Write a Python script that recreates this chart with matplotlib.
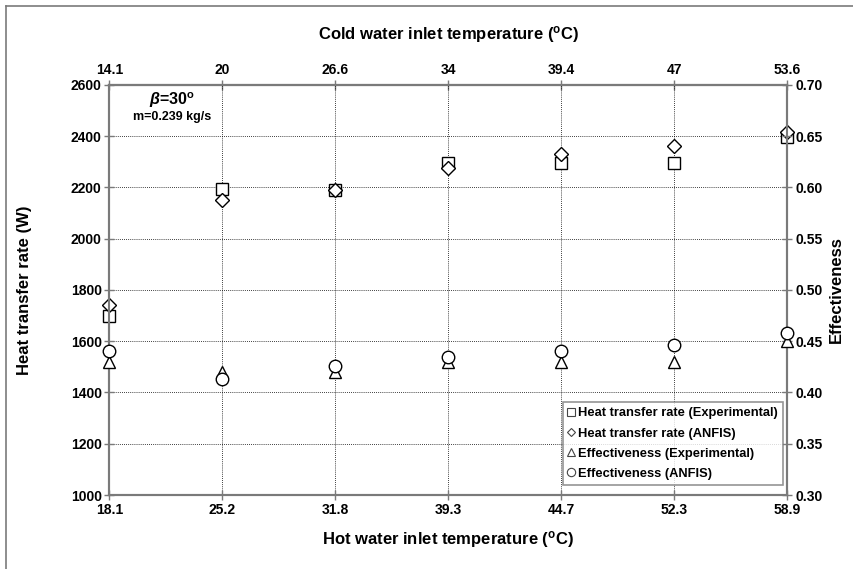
import matplotlib
matplotlib.use("Agg")
import matplotlib.pyplot as plt
from matplotlib.lines import Line2D

plt.rcParams["font.family"] = ["Liberation Sans", "DejaVu Sans"]
plt.rcParams["font.weight"] = "bold"
plt.rcParams["mathtext.fontset"] = "custom"
plt.rcParams["mathtext.rm"] = "Liberation Sans:bold"
plt.rcParams["mathtext.bf"] = "Liberation Sans:bold"
plt.rcParams["mathtext.it"] = "Liberation Sans:bold:italic"

hot_labels = ["18.1", "25.2", "31.8", "39.3", "44.7", "52.3", "58.9"]
cold_labels = ["14.1", "20", "26.6", "34", "39.4", "47", "53.6"]

q_exp = [1700, 2195, 2190, 2295, 2295, 2295, 2395]
q_anfis = [1740, 2150, 2190, 2275, 2330, 2360, 2415]
eff_exp = [0.430, 0.420, 0.420, 0.430, 0.430, 0.430, 0.450]
eff_anfis = [0.440, 0.413, 0.426, 0.435, 0.440, 0.446, 0.458]

x = list(range(len(hot_labels)))
spine_col = "#7a7a7a"
deg = r"$^{\mathrm{o}}$"

fig = plt.figure(figsize=(8.54, 5.69), dpi=100)
ax = fig.add_axes([0.128, 0.130, 0.794, 0.721])
ax2 = ax.twinx()

mk = dict(linestyle="none", markerfacecolor="white", markeredgecolor="black",
          markeredgewidth=1.0)
ax.plot(x, q_exp, marker="s", markersize=8.5, zorder=5, clip_on=False, **mk)
ax.plot(x, q_anfis, marker="D", markersize=7, zorder=6, clip_on=False, **mk)
ax2.plot(x, eff_exp, marker="^", markersize=9, zorder=5, clip_on=False, **mk)
ax2.plot(x, eff_anfis, marker="o", markersize=9, zorder=6, clip_on=False, **mk)

ax.set_xlim(0, 6)
ax.set_ylim(1000, 2600)
ax.set_yticks(range(1000, 2601, 200))
ax.set_xticks(x)
ax.set_xticklabels(hot_labels)
ax2.set_ylim(0.30, 0.70)
ax2.set_yticks([0.30, 0.35, 0.40, 0.45, 0.50, 0.55, 0.60, 0.65, 0.70])
ax2.set_yticklabels([f"{v:.2f}" for v in ax2.get_yticks()])

sec = ax.secondary_xaxis("top")
sec.set_xticks(x)
sec.set_xticklabels(cold_labels)

ax.grid(True, color="black", linestyle=(0, (1, 1.5)), linewidth=0.6)
ax.set_axisbelow(True)

for a in (ax, ax2, sec):
    for s in a.spines.values():
        s.set_color(spine_col)
        s.set_linewidth(1.5)
    a.tick_params(direction="inout", length=7, width=1.0, color=spine_col,
                  labelsize=10, pad=2)

ax.set_xlabel(f"Hot water inlet temperature ({deg}C)", fontsize=12, fontweight="bold", labelpad=9)
ax.set_ylabel("Heat transfer rate (W)", fontsize=12, fontweight="bold", labelpad=28)
ax2.set_ylabel("Effectiveness", fontsize=12, fontweight="bold", labelpad=5)
sec.set_xlabel(f"Cold water inlet temperature ({deg}C)", fontsize=12, fontweight="bold", labelpad=17)

ax.text(0.093, 0.962, r"$\beta$=30" + deg, transform=ax.transAxes, fontsize=11.5,
        ha="center", va="center", fontweight="bold")
ax.text(0.093, 0.921, "m=0.239 kg/s", transform=ax.transAxes, fontsize=9,
        ha="center", va="center", fontweight="bold")

handles = [
    Line2D([0], [0], marker="s", markersize=5.5, **mk),
    Line2D([0], [0], marker="D", markersize=4.5, **mk),
    Line2D([0], [0], marker="^", markersize=6, **mk),
    Line2D([0], [0], marker="o", markersize=6, **mk),
]
labels = ["Heat transfer rate (Experimental)", "Heat transfer rate (ANFIS)",
          "Effectiveness (Experimental)", "Effectiveness (ANFIS)"]
for h in handles:
    h.set_markeredgecolor("#444444")
    h.set_markeredgewidth(0.8)
leg = ax2.legend(handles, labels, loc="lower right", bbox_to_anchor=(0.993, 0.025),
                 fontsize=9.3, frameon=True, fancybox=False, edgecolor=spine_col,
                 handlelength=0.5, handletextpad=0.25, borderpad=0.4,
                 labelspacing=0.62, borderaxespad=0.0)
leg.get_frame().set_linewidth(1.2)
leg.set_zorder(10)

# outer frame of the original figure
fig.add_artist(Line2D([0.007, 0.007], [0.0, 0.99], transform=fig.transFigure,
                      color=spine_col, linewidth=1.2))
fig.add_artist(Line2D([0.007, 1.0], [0.99, 0.99], transform=fig.transFigure,
                      color=spine_col, linewidth=1.2))

fig.savefig("out.png", dpi=100)
